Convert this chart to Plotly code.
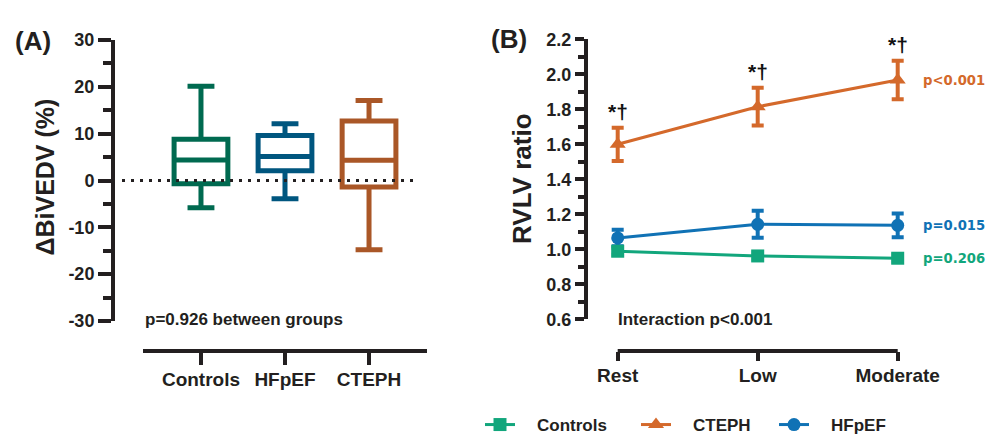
import plotly.graph_objects as go

W, H = 987, 435

# ---------------- Panel A data (box plots) ----------------
groups = ["Controls", "HFpEF", "CTEPH"]
box_min = [-5.8, -3.9, -14.8]
box_q1 = [-0.7, 2.1, -1.4]
box_med = [4.4, 5.1, 4.3]
box_q3 = [8.8, 9.6, 12.7]
box_max = [20.1, 12.1, 17.1]
box_colors = ["#006A50", "#00567F", "#AA5727"]
a_yticks = [-30, -20, -10, 0, 10, 20, 30]
a_yticktext = ["-30", "-20", "-10", "0", "10", "20", "30"]

# ---------------- Panel B data (lines) ----------------
stages = ["Rest", "Low", "Moderate"]
ctrl_mean = [0.989, 0.962, 0.949]
ctrl_err = [0.02, 0.02, 0.02]
cteph_mean = [1.60, 1.815, 1.967]
cteph_err = [0.095, 0.108, 0.11]
hfpef_mean = [1.065, 1.143, 1.137]
hfpef_err = [0.047, 0.077, 0.068]
b_colors = {"Controls": "#12A67C", "CTEPH": "#D4692B", "HFpEF": "#1072B5"}
p_labels = {"Controls": "p=0.206", "CTEPH": "p<0.001", "HFpEF": "p=0.015"}
sig_marks = ["*†", "*†", "*†"]

INK = "#231F20"
FONT = "Liberation Sans, Arial, sans-serif"


def px_x(x):
    return x / W


def px_y(y):
    return 1 - y / H


fig = go.Figure()

for g, lo, q1, med, q3, hi, col in zip(groups, box_min, box_q1, box_med, box_q3, box_max, box_colors):
    fig.add_trace(go.Box(
        x=[g], q1=[q1], median=[med], q3=[q3], lowerfence=[lo], upperfence=[hi],
        width=0.64, whiskerwidth=0.5, boxpoints=False,
        line=dict(color=col, width=5), fillcolor="rgba(0,0,0,0)",
        showlegend=False, xaxis="x", yaxis="y", hoverinfo="skip",
    ))

series = [
    ("HFpEF", hfpef_mean, hfpef_err, "circle", 13, 3, None),
    ("CTEPH", cteph_mean, cteph_err, "triangle-up", 14, 2, 93),
    ("Controls", ctrl_mean, ctrl_err, "square", 13, 1, 111),
]
for name, m, e, sym, size, rank, lw in series:
    col = b_colors[name]
    fig.add_trace(go.Scatter(
        x=stages, y=m, name="\u2002\u2002" + name, mode="lines+markers",
        line=dict(color=col, width=3),
        marker=dict(symbol=sym, size=size, color=col),
        error_y=dict(type="data", array=e, symmetric=True, color=col, thickness=4, width=6),
        cliponaxis=False, legendrank=rank, legendwidth=lw, xaxis="x2", yaxis="y2",
    ))

axis_common = dict(
    showline=True, linewidth=4, linecolor=INK, ticks="outside", tickcolor=INK,
    tickwidth=4, showgrid=False, zeroline=False, automargin=False,
    tickfont=dict(family=FONT, size=18, color=INK, weight="bold"),
)
xfont = dict(family=FONT, size=19, color=INK, weight="bold")

# panel B x-range padded so error-bar caps at the ends are not clipped
B_PAD = 0.12
B_STEP = 140.0
B_X0, B_X2 = 617.7, 897.7

fig.update_layout(
    width=W, height=H, margin=dict(l=0, r=0, t=0, b=0, autoexpand=False),
    paper_bgcolor="white", plot_bgcolor="white",
    boxmode="overlay",
    xaxis=dict(**{**axis_common, "tickfont": xfont},
               domain=[px_x(143), px_x(427)], anchor="free", position=px_y(351),
               type="category", range=[-0.69, 2.69], ticklen=12, ticklabelstandoff=-2),
    yaxis=dict(**axis_common, domain=[px_y(321), px_y(40)], anchor="free", position=px_x(113),
               range=[-30, 30], tickvals=a_yticks, ticktext=a_yticktext, ticklen=13,
               minor=dict(dtick=5, ticklen=8, tickwidth=4, tickcolor=INK, ticks="outside")),
    xaxis2=dict(**{**axis_common, "tickfont": xfont, "showline": False},
                domain=[px_x(B_X0 - B_PAD * B_STEP), px_x(B_X2 + B_PAD * B_STEP)],
                anchor="free", position=px_y(351),
                type="category", range=[-B_PAD, 2 + B_PAD], ticklen=9, ticklabelstandoff=-2),
    yaxis2=dict(**axis_common, domain=[px_y(319.3), px_y(39.3)], anchor="free", position=px_x(586),
                range=[0.6, 2.2], dtick=0.2, tickformat=".1f", ticklen=9,
                minor=dict(dtick=0.1, ticklen=6, tickwidth=4, tickcolor=INK, ticks="outside")),
    legend=dict(orientation="h", x=px_x(480), xanchor="left", y=px_y(425), yanchor="middle",
                font=dict(family=FONT, size=17, color=INK, weight="bold"),
                bgcolor="rgba(0,0,0,0)"),
)

# zero reference line in panel A
fig.add_shape(type="line", xref="paper", yref="y", x0=px_x(122), x1=px_x(418), y0=0, y1=0,
              line=dict(color=INK, width=3, dash="3px,6px"), layer="above")
# panel B x-axis line spanning first to last stage
fig.add_shape(type="line", xref="x2", yref="paper", x0=0, x1=2, y0=px_y(351), y1=px_y(351),
              line=dict(color=INK, width=4))

ann = []
bold = lambda s: dict(family=FONT, size=s, color=INK, weight="bold")
ann.append(dict(text="(A)", x=px_x(33), y=px_y(24), xref="paper", yref="paper", xanchor="center",
                showarrow=False, font=bold(26)))
ann.append(dict(text="(B)", x=px_x(509), y=px_y(22), xref="paper", yref="paper", xanchor="center",
                showarrow=False, font=bold(26)))
ann.append(dict(text="ΔBiVEDV (%)", x=px_x(44), y=px_y(177.5), xref="paper", yref="paper", xanchor="center",
                showarrow=False, textangle=-90, font=bold(25)))
ann.append(dict(text="RVLV ratio", x=px_x(522), y=px_y(179), xref="paper", yref="paper", xanchor="center",
                showarrow=False, textangle=-90, font=bold(26)))
ann.append(dict(text="p=0.926 between groups", x=px_x(143), y=px_y(331), xref="paper", yref="paper",
                xanchor="left", showarrow=False, font=bold(17)))
ann.append(dict(text="Interaction p<0.001", x=px_x(616), y=px_y(331), xref="paper", yref="paper",
                xanchor="left", showarrow=False, font=bold(17)))
for st, m, e, s in zip(stages, cteph_mean, cteph_err, sig_marks):
    ann.append(dict(text=s, x=st, y=m + e, xref="x2", yref="y2", yshift=16, showarrow=False,
                    font=dict(family=FONT, size=21, color="#111111", weight="bold")))
for name, m, _, _, _, _, _ in series:
    ann.append(dict(text=p_labels[name], x=px_x(921), y=m[-1], xref="paper", yref="y2", xanchor="left",
                    showarrow=False, font=dict(family="DejaVu Sans", size=13.2, color=b_colors[name], weight="bold")))
fig.update_layout(annotations=ann)

fig.write_html("out.html")
